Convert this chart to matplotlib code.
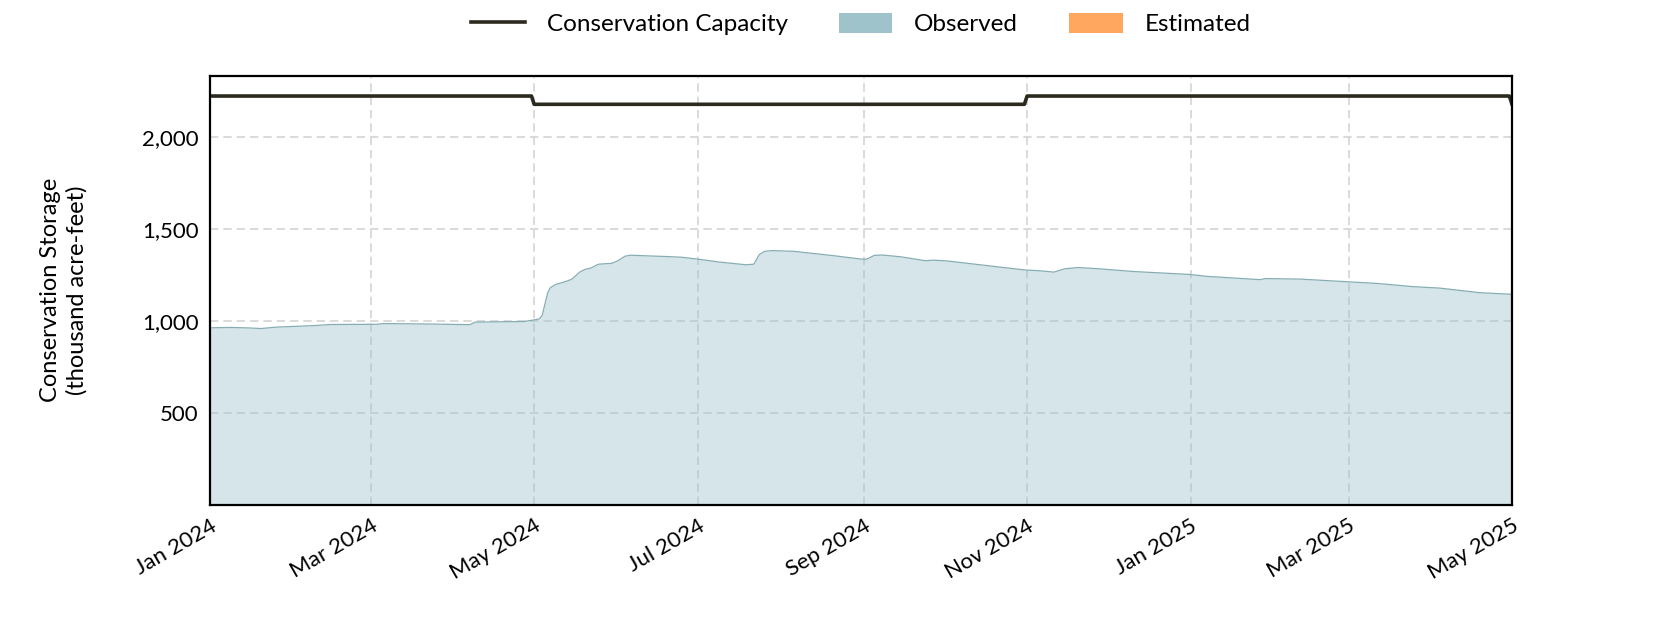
import numpy as np
import pandas as pd
import matplotlib
matplotlib.use("Agg")
import matplotlib.pyplot as plt
import matplotlib.dates as mdates
from matplotlib.lines import Line2D
from matplotlib.patches import Patch
from matplotlib.ticker import FuncFormatter, FixedLocator

## Data (thousand acre-feet)
obs_dates = ["2024-01-01", "2024-01-09", "2024-01-16", "2024-01-20", "2024-01-26",
             "2024-02-02", "2024-02-10", "2024-02-15", "2024-03-03", "2024-03-06",
             "2024-03-21", "2024-04-07", "2024-04-09", "2024-04-20", "2024-04-27",
             "2024-05-01", "2024-05-03", "2024-05-04", "2024-05-05", "2024-05-06",
             "2024-05-07", "2024-05-09", "2024-05-11", "2024-05-13", "2024-05-15",
             "2024-05-18", "2024-05-20", "2024-05-22", "2024-05-25", "2024-05-30",
             "2024-06-01", "2024-06-04", "2024-06-06", "2024-06-13", "2024-06-19",
             "2024-06-25", "2024-07-02", "2024-07-09", "2024-07-19", "2024-07-22",
             "2024-07-24", "2024-07-26", "2024-07-29", "2024-08-06", "2024-08-21",
             "2024-08-31", "2024-09-02", "2024-09-05", "2024-09-08", "2024-09-15",
             "2024-09-24", "2024-09-27", "2024-10-02", "2024-10-22", "2024-10-31",
             "2024-11-06", "2024-11-11", "2024-11-15", "2024-11-20", "2024-11-28",
             "2024-12-11", "2025-01-01", "2025-01-07", "2025-01-27", "2025-01-29",
             "2025-02-11", "2025-02-28", "2025-03-12", "2025-03-25", "2025-04-04",
             "2025-04-19", "2025-04-30", "2025-05-01"]
obs_values = [962, 964, 961, 958, 966,
              970, 975, 980, 981, 985,
              983, 979, 993, 995, 996,
              1005, 1011, 1030, 1090, 1150,
              1180, 1198, 1206, 1215, 1226,
              1265, 1280, 1286, 1308, 1313,
              1325, 1352, 1357, 1353, 1350,
              1346, 1334, 1320, 1305, 1308,
              1360, 1378, 1382, 1378, 1354,
              1336, 1335, 1356, 1358, 1348,
              1327, 1330, 1326, 1292, 1277,
              1272, 1265, 1283, 1290, 1283,
              1268, 1252, 1242, 1224, 1230,
              1227, 1213, 1203, 1186, 1178,
              1153, 1145, 1144]

cap_dates = ["2024-01-01", "2024-04-30", "2024-05-01", "2024-10-31",
             "2024-11-01", "2025-04-30", "2025-05-01"]
cap_values = [2223, 2223, 2178, 2178, 2223, 2223, 2178]

obs = pd.Series(obs_values, index=pd.to_datetime(obs_dates))
cap = pd.Series(cap_values, index=pd.to_datetime(cap_dates))

plt.rcParams['font.family'] = ['Lato', 'DejaVu Sans']

fig = plt.figure(figsize=(16.8, 6.3), dpi=100)
ax = fig.add_axes([0.125, 0.199, 0.775, 0.681])

obs_fill = "#9fc3cb"
ax.fill_between(obs.index, 0, obs.values, color=obs_fill, alpha=0.42, lw=0, zorder=2)
ax.plot(obs.index, obs.values, color="#86adb4", lw=0.9, zorder=3)
ax.plot(cap.index, cap.values, color="#2c2a1f", lw=2.6, zorder=4)

ax.set_xlim(pd.Timestamp("2024-01-01"), pd.Timestamp("2025-05-01"))
ax.set_ylim(0, max(cap_values) * 1.05)

ax.yaxis.set_major_locator(FixedLocator([500, 1000, 1500, 2000]))
ax.yaxis.set_major_formatter(FuncFormatter(lambda v, p: f"{int(v):,}"))
ax.xaxis.set_major_locator(mdates.MonthLocator(bymonth=[1, 3, 5, 7, 9, 11]))
ax.xaxis.set_major_formatter(mdates.DateFormatter("%b %Y"))
ax.tick_params(axis="both", length=0, labelsize=16, pad=8)
for lab in ax.get_xticklabels():
    lab.set_rotation(30)
    lab.set_ha("right")
    lab.set_rotation_mode("anchor")

ax.grid(True, color="#d4d4d4", linestyle=(0, (5, 3)), lw=1.2, zorder=1)
ax.set_axisbelow(True)
for sp in ax.spines.values():
    sp.set_linewidth(1.6)
    sp.set_color("black")
    sp.set_zorder(6)

ax.set_ylabel("Conservation Storage\n(thousand acre-feet)", fontsize=17,
              linespacing=1.3)
ax.yaxis.label.set_va("center")
ax.yaxis.set_label_coords(-0.112, 0.5)

handles = [Line2D([], [], color="#2c2a1f", lw=2.6),
           Patch(facecolor=obs_fill, edgecolor="none"),
           Patch(facecolor="#ffa75e", edgecolor="none")]
fig.legend(handles, ["Conservation Capacity", "Observed", "Estimated"],
           loc="center", bbox_to_anchor=(0.5125, 0.962), ncol=3, frameon=False,
           fontsize=17.5, handlelength=2.2, handleheight=0.9, handletextpad=0.9,
           columnspacing=2.1)

fig.savefig("out.png", dpi=100)
